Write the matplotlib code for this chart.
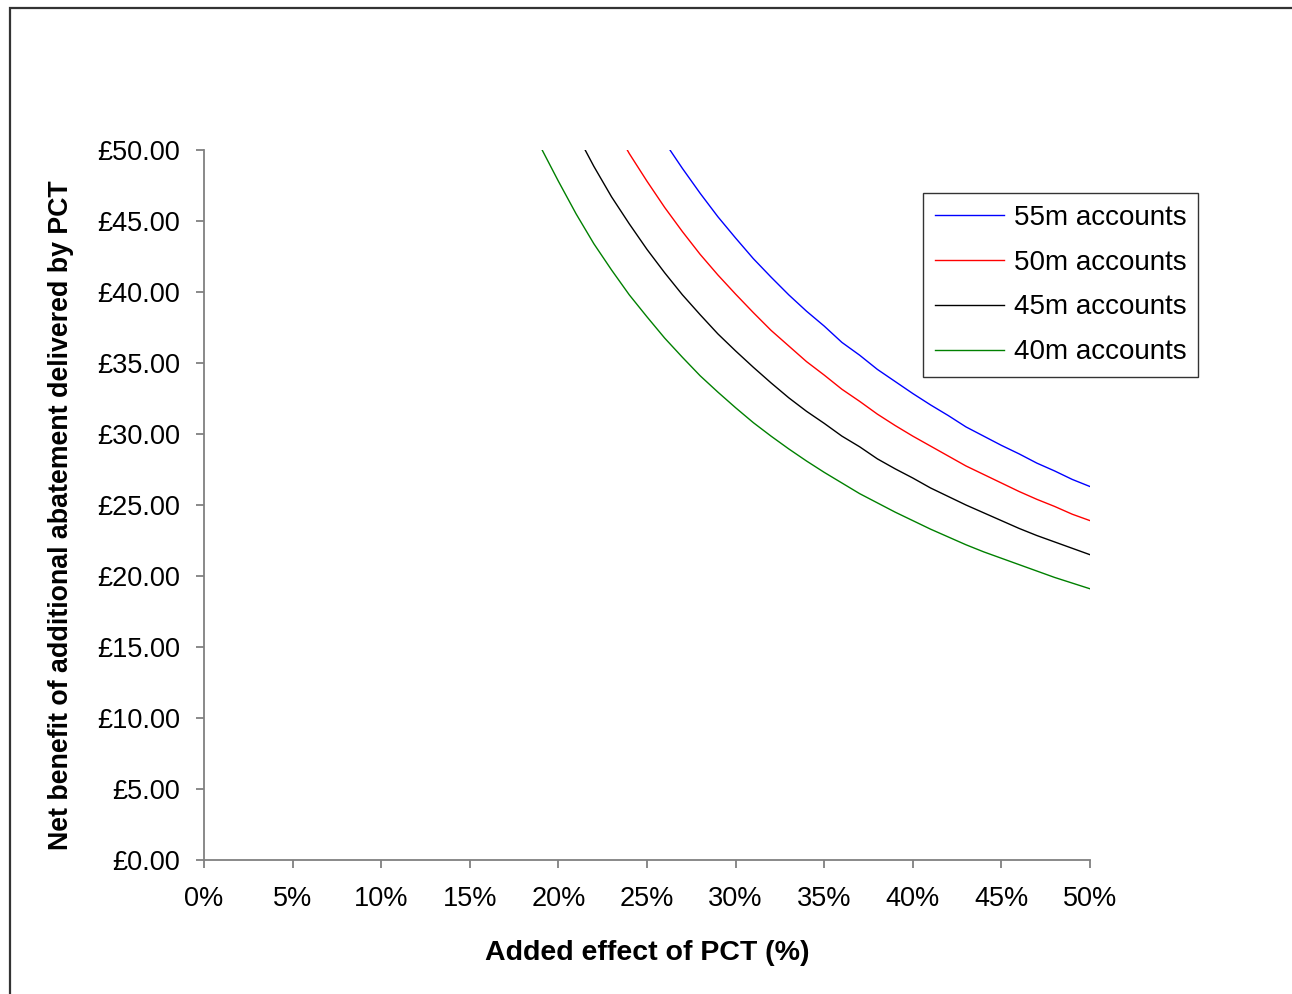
import matplotlib
matplotlib.use("Agg")
import matplotlib.pyplot as plt
from matplotlib.patches import Rectangle
from matplotlib.ticker import FuncFormatter, MultipleLocator

plt.rcParams['font.family'] = ['Liberation Sans', 'DejaVu Sans']

# Added effect of PCT (%) and net benefit (GBP) per series
x_55 = [26, 27, 28, 29, 30, 31, 32, 33, 34, 35, 36, 37, 38, 39, 40, 41, 42, 43, 44, 45, 46, 47, 48, 49, 50]
y_55 = [50.55, 48.70, 46.95, 45.30, 43.80, 42.35, 41.05, 39.80, 38.65, 37.60, 36.45, 35.55, 34.55, 33.70,
        32.85, 32.05, 31.30, 30.50, 29.85, 29.20, 28.60, 27.95, 27.40, 26.80, 26.30]

x_50 = [23, 24, 25, 26, 27, 28, 29, 30, 31, 32, 33, 34, 35, 36, 37, 38, 39, 40, 41, 42, 43, 44, 45, 46, 47, 48, 49, 50]
y_50 = [51.95, 49.75, 47.80, 45.95, 44.25, 42.65, 41.20, 39.85, 38.55, 37.30, 36.20, 35.10, 34.15, 33.15,
        32.30, 31.40, 30.60, 29.85, 29.15, 28.45, 27.75, 27.15, 26.55, 25.95, 25.40, 24.90, 24.35, 23.90]

x_45 = [21, 22, 23, 24, 25, 26, 27, 28, 29, 30, 31, 32, 33, 34, 35, 36, 37, 38, 39, 40, 41, 42, 43, 44, 45,
        46, 47, 48, 49, 50]
y_45 = [51.20, 48.85, 46.70, 44.80, 43.00, 41.35, 39.80, 38.40, 37.05, 35.85, 34.70, 33.60, 32.55, 31.60,
        30.75, 29.85, 29.10, 28.25, 27.55, 26.90, 26.20, 25.60, 25.00, 24.45, 23.90, 23.35, 22.85, 22.40,
        21.95, 21.50]

x_40 = [19, 20, 21, 22, 23, 24, 25, 26, 27, 28, 29, 30, 31, 32, 33, 34, 35, 36, 37, 38, 39, 40, 41, 42, 43,
        44, 45, 46, 47, 48, 49, 50]
y_40 = [50.20, 47.80, 45.50, 43.40, 41.55, 39.80, 38.25, 36.75, 35.40, 34.10, 32.95, 31.85, 30.80, 29.85,
        28.95, 28.10, 27.30, 26.55, 25.80, 25.15, 24.50, 23.90, 23.30, 22.75, 22.20, 21.70, 21.25, 20.80,
        20.35, 19.90, 19.50, 19.10]

series_labels = ['55m accounts', '50m accounts', '45m accounts', '40m accounts']
series_colors = ['#0000ff', '#ff0000', '#000000', '#008000']

fig = plt.figure(figsize=(12.92, 9.94), dpi=100)
fig.patch.set_facecolor('white')

# outer chart-area frame (extends beyond right and bottom edges)
W, H = 1292.0, 994.0
fig.patches.append(Rectangle((10 / W, -0.05), 1.2, 1 - 8 / H + 0.05, transform=fig.transFigure,
                             fill=False, edgecolor='#333333', linewidth=1.6, zorder=0))

ax = fig.add_axes([204 / W, 1 - 860 / H, (1090 - 204) / W, (860 - 150) / H])

for xs, ys, lab, col in zip([x_55, x_50, x_45, x_40], [y_55, y_50, y_45, y_40], series_labels, series_colors):
    ax.plot(xs, ys, color=col, linewidth=1.0, label=lab)

ax.set_xlim(0, 50)
ax.set_ylim(0, 50)
ax.xaxis.set_major_locator(MultipleLocator(5))
ax.yaxis.set_major_locator(MultipleLocator(5))
ax.xaxis.set_major_formatter(FuncFormatter(lambda v, p: f"{int(round(v))}%"))
ax.yaxis.set_major_formatter(FuncFormatter(lambda v, p: f"£{v:.2f}"))

for s in ['top', 'right']:
    ax.spines[s].set_visible(False)
for s in ['left', 'bottom']:
    ax.spines[s].set_color('#808080')
    ax.spines[s].set_linewidth(1.3)
ax.tick_params(axis='both', direction='out', length=6, width=1.3, color='#808080',
               labelsize=19.5, labelcolor='black')
ax.tick_params(axis='y', pad=11)
ax.tick_params(axis='x', pad=13)

ax.set_xlabel('Added effect of PCT (%)', fontsize=20.5, fontweight='bold', labelpad=20)
ax.set_ylabel('Net benefit of additional abatement delivered by PCT', fontsize=19.3,
              fontweight='bold', va='center')
ax.yaxis.set_label_coords((61 - 204) / 886, (860 - 515) / 710)

leg = ax.legend(loc='upper left', bbox_to_anchor=((923 - 204) / 886, 1 - (193 - 150) / 710),
                fontsize=20, frameon=True, fancybox=False, edgecolor='black', borderpad=0.42,
                handlelength=2.5, handletextpad=0.35, labelspacing=0.68, borderaxespad=0)
leg.get_frame().set_linewidth(1.0)

fig.savefig('out.png', dpi=100, facecolor='white')
